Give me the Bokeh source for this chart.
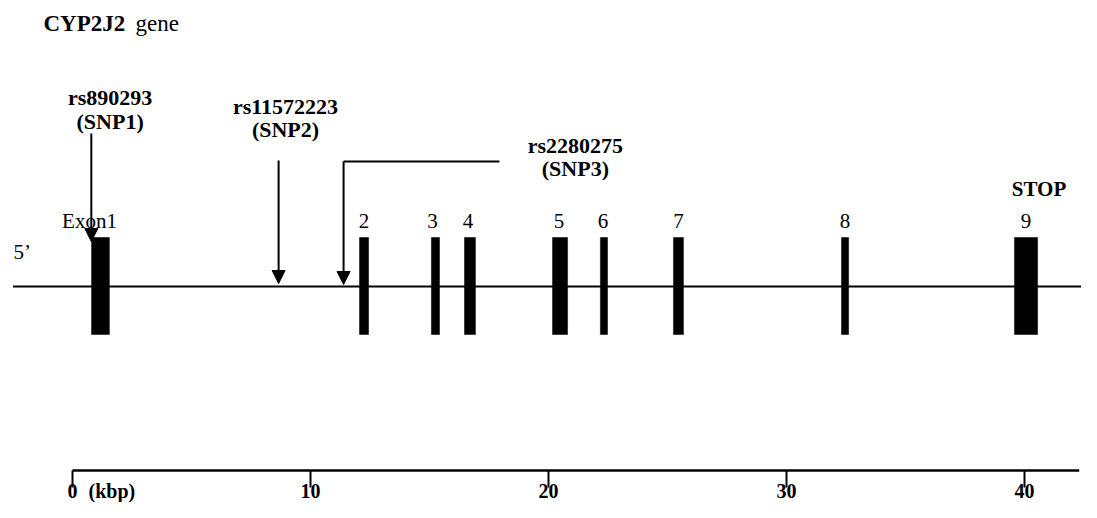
from bokeh.plotting import figure
from bokeh.models import Range1d, ColumnDataSource, Arrow, NormalHead
from bokeh.core.properties import value
from bokeh.embed import file_html
from bokeh.resources import INLINE

# ---------------- data ----------------
gene_name = "CYP2J2"
gene_word = "gene"
five_prime = "5\u2019"
stop_label = "STOP"

exon_labels = ["Exon1", "2", "3", "4", "5", "6", "7", "8", "9"]
exon_start_kbp = [0.80, 12.06, 15.08, 16.47, 20.17, 22.18, 25.25, 32.31, 39.58]
exon_end_kbp = [1.55, 12.44, 15.42, 16.93, 20.80, 22.48, 25.67, 32.61, 40.55]

snp_ids = ["rs890293", "rs11572223", "rs2280275"]
snp_names = ["(SNP1)", "(SNP2)", "(SNP3)"]
snp_pos_kbp = [0.79, 8.66, 11.39]

gene_extent_kbp = [-2.5, 43.2]

scale_ticks_kbp = [0, 10, 20, 30, 40]
scale_tick_labels = ["0", "10", "20", "30", "40"]
scale_end_kbp = 42.3
scale_unit = "(kbp)"

# ---------------- layout ----------------
W, H = 1081, 502
PX_PER_KBP = 23.8
X_START = -72 / PX_PER_KBP
X_END = X_START + W / PX_PER_KBP
FONT = value("Liberation Serif")
TDY = -7   # text baseline correction

GENE_Y = 286
EXON_TOP, EXON_BOT = 237, 334
EXON_LABEL_Y = 227 + TDY
EXON_LABEL_DX = [-11, 0, -3, -2, -1, -1, 0, 0, 0]
STOP_Y, STOP_DX = 195 + TDY, 13

SNP_LABEL_X = [1.58, 8.95, 21.13]
SNP_ID_Y = [104 + TDY, 113 + TDY, 152 + TDY]
SNP_NAME_Y = [128 + TDY, 136 + TDY, 175 + TDY]
ARROW_TOP = [133, 160, 161]
ARROW_TIP = [241, 283, 284]
SNP3_ELBOW_END = 17.94

SCALE_Y, TICK_LEN, SCALE_LABEL_Y = 470, 17, 497 + TDY

TITLE_Y = 30 + TDY
TITLE_X = -1.22
GENE_WORD_DX = 3.87
FIVE_X, FIVE_Y = -2.48, 258 + TDY

p = figure(width=W, height=H, output_backend="svg", toolbar_location=None,
           x_range=Range1d(X_START, X_END), y_range=Range1d(H, 0),
           x_axis_location=None, y_axis_location=None, min_border=0,
           outline_line_color=None, background_fill_color="white",
           border_fill_color="white")
p.xgrid.visible = False
p.ygrid.visible = False

# title
p.text(x=[TITLE_X], y=[TITLE_Y], text=[gene_name], text_font=FONT,
       text_font_size="23px", text_font_style="bold", text_align="left",
       text_baseline="alphabetic", text_color="black")
p.text(x=[TITLE_X + GENE_WORD_DX], y=[TITLE_Y], text=[gene_word], text_font=FONT,
       text_font_size="23px", text_align="left",
       text_baseline="alphabetic", text_color="black")

# gene backbone
p.segment(x0=[gene_extent_kbp[0]], x1=[gene_extent_kbp[1]], y0=[GENE_Y], y1=[GENE_Y],
          line_color="black", line_width=2)
p.text(x=[FIVE_X], y=[FIVE_Y], text=[five_prime], text_font=FONT,
       text_font_size="21px", text_align="left", text_baseline="alphabetic",
       text_color="black")

# exons
exon_src = ColumnDataSource(dict(
    left=exon_start_kbp, right=exon_end_kbp,
    mid=[(a + b) / 2 for a, b in zip(exon_start_kbp, exon_end_kbp)],
    label=exon_labels, dx=EXON_LABEL_DX))
p.quad(left="left", right="right", top=EXON_TOP, bottom=EXON_BOT,
       source=exon_src, fill_color="black", line_color="black", line_width=0.5)
p.text(x="mid", y=EXON_LABEL_Y, text="label", x_offset="dx", source=exon_src,
       text_font=FONT, text_font_size="21px", text_align="center",
       text_baseline="alphabetic", text_color="black")
last_mid = (exon_start_kbp[-1] + exon_end_kbp[-1]) / 2
p.text(x=[last_mid], y=[STOP_Y], text=[stop_label], x_offset=STOP_DX,
       text_font=FONT, text_font_size="21px", text_font_style="bold",
       text_align="center", text_baseline="alphabetic", text_color="black")

# SNPs
snp_src = ColumnDataSource(dict(
    x=snp_pos_kbp, y0=ARROW_TOP, y1=ARROW_TIP,
    lx=SNP_LABEL_X, idy=SNP_ID_Y, ny=SNP_NAME_Y, sid=snp_ids, sname=snp_names))
p.add_layout(Arrow(end=NormalHead(size=13, fill_color="black", line_color="black",
                                  line_width=1),
                   x_start="x", y_start="y0", x_end="x", y_end="y1",
                   source=snp_src, line_color="black", line_width=2))
p.segment(x0=[snp_pos_kbp[2]], x1=[SNP3_ELBOW_END], y0=[ARROW_TOP[2]], y1=[ARROW_TOP[2]],
          line_color="black", line_width=2)
p.text(x="lx", y="idy", text="sid", source=snp_src, text_font=FONT,
       text_font_size="22px", text_font_style="bold", text_align="center",
       text_baseline="alphabetic", text_color="black")
p.text(x="lx", y="ny", text="sname", source=snp_src, text_font=FONT,
       text_font_size="22px", text_font_style="bold", text_align="center",
       text_baseline="alphabetic", text_color="black")

# scale bar
p.segment(x0=[scale_ticks_kbp[0]], x1=[scale_end_kbp], y0=[SCALE_Y], y1=[SCALE_Y],
          line_color="black", line_width=2.5)
p.segment(x0=scale_ticks_kbp, x1=scale_ticks_kbp, y0=SCALE_Y, y1=SCALE_Y + TICK_LEN,
          line_color="black", line_width=2)
p.text(x=scale_ticks_kbp, y=SCALE_LABEL_Y, text=scale_tick_labels, text_font=FONT,
       text_font_size="20px", text_font_style="bold", text_align="center",
       text_baseline="alphabetic", text_color="black")
p.text(x=[scale_ticks_kbp[0]], y=[SCALE_LABEL_Y], text=[scale_unit], x_offset=16,
       text_font=FONT, text_font_size="20px", text_font_style="bold",
       text_align="left", text_baseline="alphabetic", text_color="black")

open("out.html", "w").write(file_html(p, INLINE))
